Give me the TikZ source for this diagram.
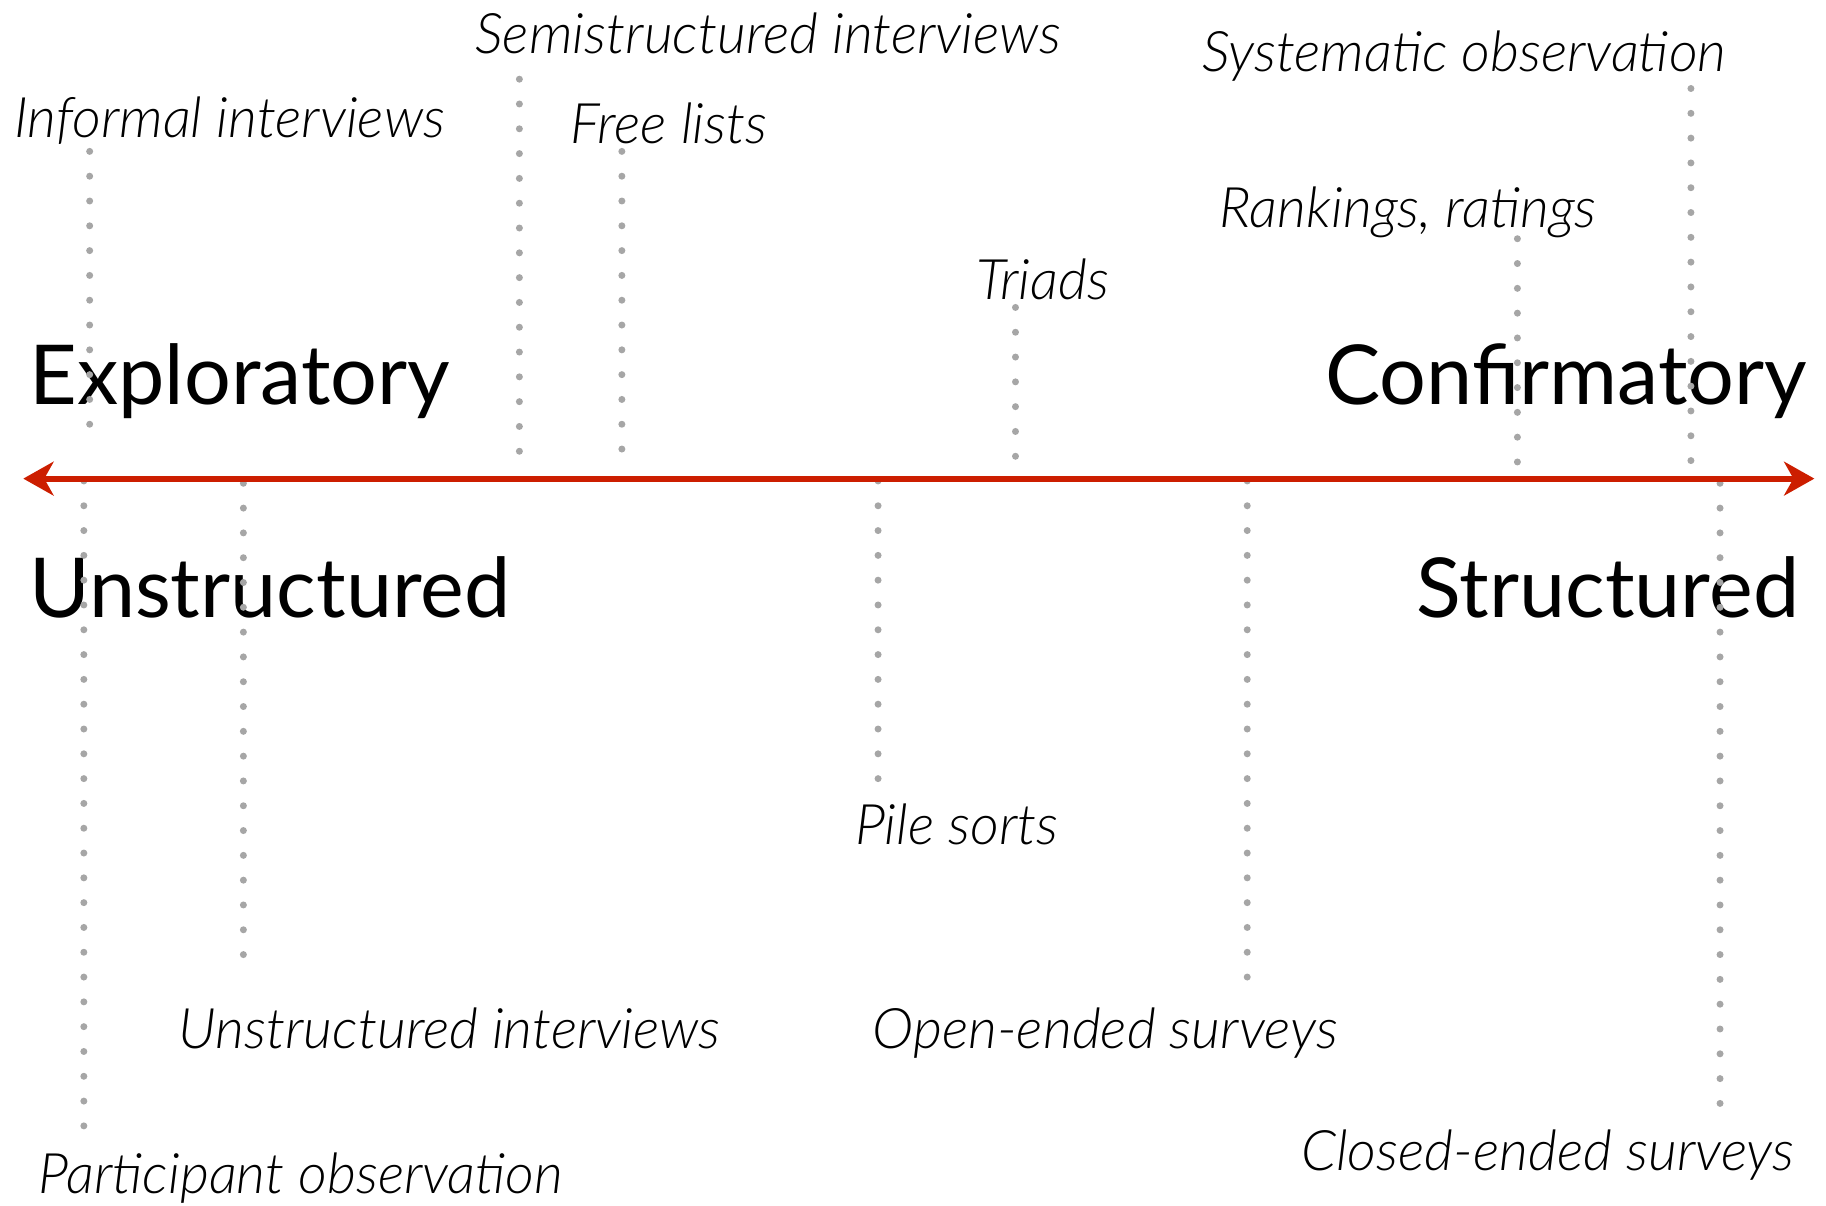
\documentclass[tikz,border=0pt]{standalone}
\usepackage{fontspec}
\setmainfont{Lato}
\IfFontExistsTF{Lato Light Italic}{\newfontfamily\lblfont{Lato Light Italic}}{\newfontfamily\lblfont{Lato Italic}}
\usetikzlibrary{arrows.meta}
\definecolor{axisred}{HTML}{CC1E00}
\definecolor{dotgray}{HTML}{A6A6A6}
\begin{document}
\begin{tikzpicture}[x=1pt,y=-1pt,
  dots/.style={draw=dotgray, line width=6pt, line cap=round, dash pattern=on 0pt off 21.3pt},
  lbl/.style={anchor=base west, inner sep=0pt, font=\lblfont\fontsize{48}{54}\selectfont},
  big/.style={anchor=base west, inner sep=0pt, font=\fontsize{71}{76}\selectfont},
  axis/.style={draw=axisred, line width=5pt, {Stealth[length=26pt,width=29pt,inset=8pt]}-{Stealth[length=26pt,width=29pt,inset=8pt]}}]
\useasboundingbox (0,0) rectangle (1568,1035);
% axis
\coordinate (L) at (20,411);
\coordinate (R) at (1558,411);
% headings
\node[big] (expl) at (25,347) {Exploratory};
\node[big, anchor=base east] (conf) at (1552,347) {Confirmatory};
\node[big] (unst) at (25,530) {Unstructured};
\node[big, anchor=base east] (stru) at (1545,530) {Structured};
% labels above
\node[lbl] (inf) at (12,118) {Informal interviews};
\node[lbl] (semi) at (408,46) {Semistructured interviews};
\node[lbl] (free) at (490,123) {Free lists};
\node[lbl] (tri) at (838,257) {Triads};
\node[lbl] (rank) at (1047,195) {Rankings, ratings};
\node[lbl] (syst) at (1032,61) {Systematic observation};
% labels below
\node[lbl] (part) at (33,1025) {Participant observation};
\node[lbl] (unint) at (153,900) {Unstructured interviews};
\node[lbl] (pile) at (734,725) {Pile sorts};
\node[lbl] (open) at (749,900) {Open-ended surveys};
\node[lbl, anchor=base east] (closed) at (1541,1005) {Closed-ended surveys};
% dotted line ends
\coordinate (inf1) at (77,130);   \coordinate (inf2) at (77,385);
\coordinate (semi1) at (446,68);  \coordinate (semi2) at (446,388);
\coordinate (free1) at (534,130); \coordinate (free2) at (534,388);
\coordinate (tri1) at (872,264);  \coordinate (tri2) at (872,392);
\coordinate (rank1) at (1303,205);\coordinate (rank2) at (1303,398);
\coordinate (syst1) at (1452,76); \coordinate (syst2) at (1452,398);
\coordinate (part1) at (72,413);  \coordinate (part2) at (72,970);
\coordinate (unint1) at (209,415);\coordinate (unint2) at (209,822);
\coordinate (pile1) at (754,413); \coordinate (pile2) at (754,670);
\coordinate (open1) at (1071,413);\coordinate (open2) at (1071,840);
\coordinate (closed1) at (1477,415);\coordinate (closed2) at (1477,948);
\foreach \n in {inf,semi,free,tri,rank,syst,part,unint,pile,open,closed}
  \draw[dots] (\n1) -- (\n2);
\draw[axis] (L) -- (R);
\end{tikzpicture}
\end{document}
